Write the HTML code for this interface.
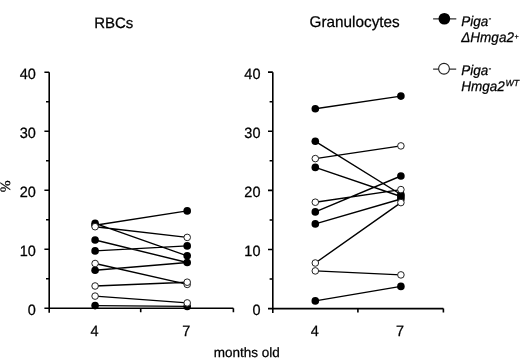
<!DOCTYPE html>
<html><head><meta charset="utf-8"><style>
html,body{margin:0;padding:0;background:#fff;}
body{width:520px;height:358px;overflow:hidden;}
svg{display:block;}
text{font-family:"Liberation Sans",Arial,sans-serif;fill:#000;stroke:#000;stroke-width:0.25px;text-rendering:geometricPrecision;}
</style></head><body>
<svg width="520" height="358" viewBox="0 0 520 358">
<rect width="520" height="358" fill="#fff"/>
<text x="94.20" y="28.00" font-size="15">RBCs</text>
<text transform="translate(309.60 27.10) scale(0.987 1.0)" font-size="15.5">Granulocytes</text>
<text transform="translate(10.0 186.4) rotate(-90)" text-anchor="middle" font-size="14.3" style="font-family:'Liberation Serif',serif">%</text>
<path d="M49.2 72.20V312.70M49.2 308.2H233.4M140.7 308.2V312.20M233.4 308.2V312.20" stroke="#000" stroke-width="1.6" fill="none"/>
<text transform="translate(35.80 314.65) scale(1.0 1.03)" font-size="14.5" text-anchor="end">0</text>
<text transform="translate(35.80 255.65) scale(1.0 1.03)" font-size="14.5" text-anchor="end">10</text>
<text transform="translate(35.80 196.65) scale(1.0 1.03)" font-size="14.5" text-anchor="end">20</text>
<text transform="translate(35.80 137.65) scale(1.0 1.03)" font-size="14.5" text-anchor="end">30</text>
<text transform="translate(35.80 78.65) scale(1.0 1.03)" font-size="14.5" text-anchor="end">40</text>
<path d="M44.40 308.20H49.2M46.00 278.70H49.2M44.40 249.20H49.2M46.00 219.70H49.2M44.40 190.20H49.2M46.00 160.70H49.2M44.40 131.20H49.2M46.00 101.70H49.2M44.40 72.20H49.2" stroke="#000" stroke-width="1.6" fill="none"/>
<path d="M95.1 225.3L187.2 210.9M95.1 226.7L187.2 237.4M95.1 223.4L187.2 255.8M95.1 240.0L187.2 262.5M95.1 250.9L187.2 245.9M95.1 263.5L187.2 284.4M95.1 270.25L187.2 262.5M95.1 286.0L187.2 282.2M95.1 296.1L187.2 302.9M95.1 305.6L187.2 306.4" stroke="#000" stroke-width="1.4" fill="none"/>
<circle cx="95.1" cy="225.3" r="3.8" fill="#000"/>
<circle cx="95.1" cy="223.4" r="3.8" fill="#000"/>
<circle cx="95.1" cy="240.0" r="3.8" fill="#000"/>
<circle cx="95.1" cy="250.9" r="3.8" fill="#000"/>
<circle cx="95.1" cy="270.25" r="3.8" fill="#000"/>
<circle cx="95.1" cy="305.6" r="3.8" fill="#000"/>
<circle cx="187.2" cy="210.9" r="3.8" fill="#000"/>
<circle cx="187.2" cy="245.9" r="3.8" fill="#000"/>
<circle cx="187.2" cy="255.8" r="3.8" fill="#000"/>
<circle cx="187.2" cy="262.5" r="3.8" fill="#000"/>
<circle cx="187.2" cy="306.4" r="3.8" fill="#000"/>
<circle cx="95.1" cy="226.7" r="3.3" fill="#fff" stroke="#222" stroke-width="1"/>
<circle cx="95.1" cy="263.5" r="3.3" fill="#fff" stroke="#222" stroke-width="1"/>
<circle cx="95.1" cy="286.0" r="3.3" fill="#fff" stroke="#222" stroke-width="1"/>
<circle cx="95.1" cy="296.1" r="3.3" fill="#fff" stroke="#222" stroke-width="1"/>
<circle cx="187.2" cy="237.4" r="3.3" fill="#fff" stroke="#222" stroke-width="1"/>
<circle cx="187.2" cy="284.4" r="3.3" fill="#fff" stroke="#222" stroke-width="1"/>
<circle cx="187.2" cy="282.2" r="3.3" fill="#fff" stroke="#222" stroke-width="1"/>
<circle cx="187.2" cy="302.9" r="3.3" fill="#fff" stroke="#222" stroke-width="1"/>
<text transform="translate(94.60 336.05) scale(1.0 1.03)" font-size="14.5" text-anchor="middle">4</text>
<text transform="translate(186.30 336.05) scale(1.0 1.03)" font-size="14.5" text-anchor="middle">7</text>
<path d="M272.8 72.15V313.10M272.8 308.6H443.4M357.9 308.6V312.60M443.4 308.6V312.60" stroke="#000" stroke-width="1.6" fill="none"/>
<text transform="translate(260.50 315.05) scale(1.0 1.03)" font-size="14.5" text-anchor="end">0</text>
<text transform="translate(260.50 255.94) scale(1.0 1.03)" font-size="14.5" text-anchor="end">10</text>
<text transform="translate(260.50 196.82) scale(1.0 1.03)" font-size="14.5" text-anchor="end">20</text>
<text transform="translate(260.50 137.71) scale(1.0 1.03)" font-size="14.5" text-anchor="end">30</text>
<text transform="translate(260.50 78.60) scale(1.0 1.03)" font-size="14.5" text-anchor="end">40</text>
<path d="M268.00 308.60H272.8M269.60 279.04H272.8M268.00 249.49H272.8M269.60 219.93H272.8M268.00 190.37H272.8M269.60 160.82H272.8M268.00 131.26H272.8M269.60 101.70H272.8M268.00 72.15H272.8" stroke="#000" stroke-width="1.6" fill="none"/>
<path d="M315.3 108.8L400.9 96.1M315.3 141.3L400.9 194.5M315.3 158.6L400.9 145.9M315.3 167.4L400.9 196.5M315.3 202.2L400.9 189.6M315.3 211.9L400.9 176.0M315.3 223.9L400.9 199.0M315.3 263.0L400.9 202.6M315.3 270.9L400.9 274.9M315.3 300.9L400.9 286.4" stroke="#000" stroke-width="1.4" fill="none"/>
<circle cx="315.3" cy="108.8" r="3.8" fill="#000"/>
<circle cx="315.3" cy="141.3" r="3.8" fill="#000"/>
<circle cx="315.3" cy="167.4" r="3.8" fill="#000"/>
<circle cx="315.3" cy="211.9" r="3.8" fill="#000"/>
<circle cx="315.3" cy="223.9" r="3.8" fill="#000"/>
<circle cx="315.3" cy="300.9" r="3.8" fill="#000"/>
<circle cx="400.9" cy="96.1" r="3.8" fill="#000"/>
<circle cx="400.9" cy="176.0" r="3.8" fill="#000"/>
<circle cx="400.9" cy="194.5" r="3.8" fill="#000"/>
<circle cx="400.9" cy="196.5" r="3.8" fill="#000"/>
<circle cx="400.9" cy="199.0" r="3.8" fill="#000"/>
<circle cx="400.9" cy="286.4" r="3.8" fill="#000"/>
<circle cx="315.3" cy="158.6" r="3.3" fill="#fff" stroke="#222" stroke-width="1"/>
<circle cx="315.3" cy="202.2" r="3.3" fill="#fff" stroke="#222" stroke-width="1"/>
<circle cx="315.3" cy="263.0" r="3.3" fill="#fff" stroke="#222" stroke-width="1"/>
<circle cx="315.3" cy="270.9" r="3.3" fill="#fff" stroke="#222" stroke-width="1"/>
<circle cx="400.9" cy="145.9" r="3.3" fill="#fff" stroke="#222" stroke-width="1"/>
<circle cx="400.9" cy="189.6" r="3.3" fill="#fff" stroke="#222" stroke-width="1"/>
<circle cx="400.9" cy="202.6" r="3.3" fill="#fff" stroke="#222" stroke-width="1"/>
<circle cx="400.9" cy="274.9" r="3.3" fill="#fff" stroke="#222" stroke-width="1"/>
<text transform="translate(314.90 336.05) scale(1.0 1.03)" font-size="14.5" text-anchor="middle">4</text>
<text transform="translate(400.00 336.05) scale(1.0 1.03)" font-size="14.5" text-anchor="middle">7</text>
<path d="M433.1 18.85H456.3M433.1 69.1H456.2" stroke="#333" stroke-width="1.2" fill="none"/>
<circle cx="444.35" cy="18.75" r="5.85" fill="#000"/>
<circle cx="444.0" cy="68.75" r="5.4" fill="#fff" stroke="#222" stroke-width="1.1"/>
<text transform="translate(461.30 25.50) scale(0.965 1.0)" font-size="14" font-style="italic">Piga</text>
<text x="488.40" y="20.80" font-size="8" font-style="italic">-</text>
<text transform="translate(461.30 41.70) scale(0.965 1.0)" font-size="14" font-style="italic">ΔHmga2</text>
<text x="514.40" y="38.50" font-size="7" font-style="italic">+</text>
<text transform="translate(461.30 74.80) scale(0.965 1.0)" font-size="14" font-style="italic">Piga</text>
<text x="488.40" y="70.70" font-size="8" font-style="italic">-</text>
<text transform="translate(461.30 90.90) scale(0.965 1.0)" font-size="14" font-style="italic">Hmga2</text>
<text x="505.40" y="86.00" font-size="8.8" font-style="italic">WT</text>
<text x="213.70" y="357.20" font-size="13.5">months old</text>
</svg>
</body></html>
